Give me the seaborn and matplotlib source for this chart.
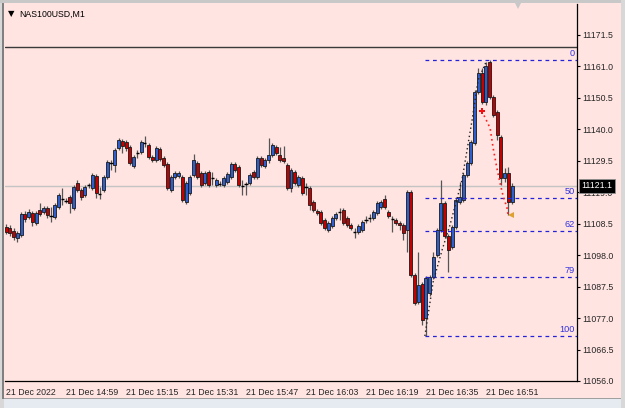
import matplotlib
matplotlib.use('Agg')
import matplotlib.pyplot as plt
import seaborn as sns
import numpy as np
import pandas as pd
from matplotlib.patches import Rectangle

# M1 candles, 21 Dec 2022 14:43 .. 16:58
opens = [
    11107.3, 11107.0, 11106.0, 11103.7, 11104.7, 11111.7, 11110.7, 11112.0, 11108.7, 11113.0,
    11112.3, 11113.7, 11111.3, 11110.7, 11114.0, 11116.5, 11116.3, 11117.3, 11113.7, 11122.0,
    11119.7, 11118.0, 11121.0, 11120.3, 11124.3, 11118.7, 11119.7, 11124.0, 11129.0, 11128.0,
    11133.7, 11136.0, 11135.7, 11134.0, 11127.7, 11131.7, 11132.3, 11135.0, 11134.7, 11130.7,
    11129.7, 11133.3, 11130.3, 11128.3, 11119.7, 11124.0, 11124.3, 11124.0, 11115.7, 11118.7,
    11124.7, 11128.7, 11125.3, 11122.0, 11125.7, 11124.0, 11121.3, 11122.0, 11121.3, 11122.3,
    11124.0, 11128.3, 11127.3, 11121.3, 11122.0, 11122.0, 11125.7, 11124.0, 11130.3, 11127.7,
    11129.7, 11131.3, 11134.0, 11131.3, 11130.3, 11128.0, 11120.3, 11125.7, 11121.3, 11123.7,
    11121.0, 11120.3, 11115.7, 11112.7, 11112.3, 11109.7, 11106.3, 11107.7, 11110.3, 11112.0,
    11113.0, 11110.3, 11108.0, 11106.0, 11105.7, 11106.3, 11109.3, 11110.0, 11110.3, 11112.0,
    11114.0, 11116.7, 11112.3, 11110.3, 11109.7, 11108.7, 11108.0, 11106.3, 11119.0, 11091.3,
    11082.3, 11088.3, 11077.0, 11085.3, 11090.7, 11098.0, 11106.3, 11115.3, 11104.3, 11100.7,
    11107.3, 11115.7, 11116.3, 11124.7, 11128.7, 11135.3, 11152.3, 11158.7, 11149.0, 11162.3,
    11150.7, 11145.7, 11137.3, 11123.7, 11125.3, 11115.7]
highs = [
    11108.5, 11108.0, 11107.0, 11106.0, 11112.3, 11112.7, 11113.3, 11112.7, 11112.7, 11115.3,
    11114.3, 11114.3, 11114.0, 11115.3, 11118.7, 11120.3, 11117.0, 11118.0, 11121.3, 11123.0,
    11120.3, 11121.3, 11122.0, 11125.3, 11125.0, 11120.7, 11124.7, 11129.7, 11129.7, 11133.7,
    11137.0, 11136.7, 11136.3, 11134.7, 11131.3, 11133.0, 11136.3, 11137.7, 11135.3, 11131.3,
    11134.3, 11134.0, 11131.0, 11129.0, 11124.7, 11126.0, 11126.0, 11124.7, 11122.7, 11124.7,
    11131.7, 11129.3, 11126.0, 11126.0, 11126.3, 11125.7, 11123.7, 11122.7, 11124.3, 11125.7,
    11129.0, 11129.0, 11128.0, 11123.0, 11122.3, 11125.3, 11126.3, 11131.0, 11131.0, 11130.3,
    11137.0, 11135.3, 11134.7, 11134.0, 11134.3, 11128.7, 11127.0, 11126.3, 11124.7, 11124.3,
    11122.0, 11121.0, 11116.3, 11113.3, 11113.0, 11110.3, 11109.3, 11111.0, 11112.3, 11113.7,
    11113.7, 11111.0, 11108.7, 11107.0, 11108.3, 11109.7, 11111.0, 11111.7, 11113.0, 11116.0,
    11116.3, 11118.0, 11113.0, 11111.0, 11110.3, 11109.3, 11108.7, 11119.7, 11119.7, 11092.0,
    11099.0, 11089.0, 11091.0, 11091.3, 11099.0, 11107.0, 11123.0, 11116.0, 11105.0, 11108.0,
    11117.0, 11122.3, 11125.3, 11129.3, 11136.3, 11153.0, 11160.3, 11160.3, 11162.3, 11163.0,
    11151.3, 11146.3, 11138.0, 11127.0, 11127.3, 11122.0]
lows = [
    11105.0, 11104.5, 11103.0, 11102.3, 11104.0, 11109.0, 11110.0, 11107.7, 11108.0, 11111.0,
    11111.7, 11110.3, 11109.0, 11110.0, 11113.3, 11114.7, 11115.3, 11112.0, 11113.0, 11119.0,
    11116.3, 11117.3, 11120.3, 11119.7, 11117.0, 11116.7, 11119.0, 11123.3, 11126.3, 11125.7,
    11133.0, 11132.0, 11132.7, 11128.0, 11127.0, 11130.3, 11131.7, 11134.0, 11130.0, 11129.0,
    11129.0, 11129.3, 11127.3, 11119.7, 11119.0, 11123.3, 11123.7, 11115.7, 11115.0, 11118.0,
    11124.0, 11123.3, 11120.7, 11121.3, 11120.7, 11121.3, 11120.7, 11121.0, 11120.7, 11121.7,
    11123.3, 11125.7, 11120.7, 11118.0, 11118.0, 11121.3, 11123.3, 11123.3, 11127.3, 11127.0,
    11128.7, 11130.7, 11131.3, 11129.0, 11128.7, 11119.7, 11119.0, 11121.3, 11120.7, 11118.0,
    11118.0, 11113.0, 11112.3, 11111.3, 11108.0, 11106.3, 11105.7, 11107.0, 11109.7, 11109.7,
    11108.0, 11107.3, 11106.3, 11103.7, 11105.0, 11105.7, 11108.7, 11109.0, 11109.7, 11111.3,
    11113.3, 11113.3, 11110.3, 11105.7, 11108.0, 11106.3, 11103.0, 11099.0, 11090.7, 11081.3,
    11081.7, 11074.7, 11071.0, 11084.3, 11090.0, 11097.3, 11105.7, 11103.7, 11092.3, 11100.0,
    11106.7, 11115.0, 11115.7, 11124.0, 11128.0, 11134.7, 11151.7, 11148.3, 11148.0, 11150.0,
    11144.0, 11136.3, 11121.3, 11122.3, 11111.3, 11115.0]
closes = [
    11105.7, 11105.3, 11104.0, 11105.3, 11111.7, 11110.0, 11112.3, 11109.0, 11112.0, 11111.7,
    11113.7, 11111.3, 11111.0, 11114.7, 11118.0, 11116.8, 11116.0, 11115.3, 11120.7, 11119.7,
    11117.3, 11120.7, 11121.3, 11124.7, 11118.7, 11118.3, 11124.0, 11129.0, 11128.7, 11133.0,
    11136.3, 11134.3, 11133.7, 11128.7, 11130.7, 11132.0, 11135.7, 11135.3, 11130.7, 11129.7,
    11133.7, 11130.0, 11128.0, 11120.3, 11124.0, 11125.3, 11125.3, 11116.3, 11122.0, 11124.0,
    11129.7, 11124.0, 11121.3, 11125.3, 11121.3, 11123.7, 11123.0, 11121.7, 11123.7, 11125.0,
    11128.3, 11126.3, 11121.3, 11121.0, 11121.7, 11124.7, 11124.0, 11130.3, 11128.0, 11129.7,
    11131.3, 11134.7, 11132.0, 11129.7, 11129.3, 11120.3, 11126.3, 11122.0, 11124.0, 11118.7,
    11120.7, 11114.7, 11113.0, 11112.0, 11108.7, 11107.0, 11108.7, 11110.3, 11111.7, 11112.3,
    11108.7, 11108.0, 11107.0, 11105.7, 11107.7, 11109.0, 11109.7, 11110.3, 11112.3, 11115.3,
    11115.7, 11114.0, 11111.0, 11110.0, 11108.7, 11108.0, 11105.3, 11119.0, 11091.3, 11082.0,
    11088.0, 11076.3, 11090.3, 11090.7, 11097.3, 11106.3, 11115.3, 11104.3, 11099.7, 11107.3,
    11116.3, 11117.3, 11124.7, 11128.7, 11135.7, 11152.3, 11158.7, 11149.0, 11161.0, 11150.7,
    11144.7, 11138.0, 11123.7, 11125.3, 11115.7, 11121.1]

time_ticks = [0, 16, 32, 48, 64, 80, 96, 112, 128]
time_labels = ['21 Dec 2022', '21 Dec 14:59', '21 Dec 15:15', '21 Dec 15:31', '21 Dec 15:47',
               '21 Dec 16:03', '21 Dec 16:19', '21 Dec 16:35', '21 Dec 16:51']
price_ticks = [11056.0, 11066.5, 11077.0, 11087.5, 11098.0, 11108.5, 11119.0, 11129.5,
               11140.0, 11150.5, 11161.0, 11171.5]

bid = 11121.1
hline_price = 11167.3

# fibo retracement drawn from the swing low to the swing high
fib_start = 111.7
fib_high = 11163.0
fib_low = 11071.0
fib_levels = [0, 50, 61.8, 78.6, 100]
fib_names = ['0', '50', '62', '79', '100']

# zigzag style dotted legs
up_leg_x = [111.7, 113.9, 116.3, 118.4, 121.6, 124.3, 125.9, 128.0]
up_leg_y = [11071.0, 11089.0, 11099.7, 11108.0, 11123.0, 11143.0, 11156.3, 11162.3]
down_leg_x = [126.9, 129.1, 129.9, 130.9, 131.7, 132.5, 133.6, 133.9]
down_leg_y = [11146.0, 11140.3, 11133.7, 11127.0, 11122.3, 11118.0, 11113.7, 11111.3]

bg = '#FFE4E1'
bull = '#2f5fcf'
bear = '#c40000'

sns.set_style('white', {'axes.facecolor': bg, 'figure.facecolor': bg})
plt.rcParams['font.family'] = ['Liberation Sans', 'DejaVu Sans']
fs = 6.3

df = pd.DataFrame({'open': opens, 'high': highs, 'low': lows, 'close': closes})
df['idx'] = np.arange(len(df))

fig = plt.figure(figsize=(6.25, 4.08), dpi=100)
ax = fig.add_axes([5 / 625, 27 / 408, 572 / 625, 377 / 408])
ax.set_facecolor(bg)

ax.axhline(bid, color='#c4c4c4', lw=1, zorder=0.5)
ax.axhline(hline_price, color='#3a3a3a', lw=1, zorder=0.6)

# candles
ax.vlines(df['idx'], df['low'], df['high'], color='#555555', lw=0.9, zorder=2)
body_lo = df[['open', 'close']].min(axis=1)
body_h = (df['close'] - df['open']).abs()
doji = body_h < 0.5
fills = np.where(df['close'] > df['open'], bull, bear)
ax.bar(df['idx'][~doji], body_h[~doji], bottom=body_lo[~doji], width=0.8,
       color=fills[~doji], edgecolor='#1a1a1a', linewidth=0.6, zorder=3)
ax.hlines(df['close'][doji], df['idx'][doji] - 0.45, df['idx'][doji] + 0.45,
          color='black', lw=1, zorder=3)

# fibo levels
fib_prices = [fib_high - (fib_high - fib_low) * lv / 100 for lv in fib_levels]
for p, name in zip(fib_prices, fib_names):
    ax.plot([fib_start, 153], [p, p], color='#2222dd', lw=0.9, ls=(0, (3, 3)), zorder=4)
    ax.text(151.6, p + 0.6, name, color='#3333dd', fontsize=fs + 0.3, ha='right', va='bottom', zorder=4)

sns.lineplot(x=up_leg_x, y=up_leg_y, ax=ax, color='#222222', lw=1, ls=(0, (1, 2)),
             sort=False, estimator=None, zorder=5)
sns.lineplot(x=down_leg_x, y=down_leg_y, ax=ax, color='#ff2020', lw=1.2, ls=(0, (1, 2)),
             sort=False, estimator=None, zorder=5)
ax.plot(126.9, 11146.0, marker='P', color='#ee1111', ms=5, mew=0, zorder=6)
ax.plot(134.6, 11111.3, marker='<', color='#e0a030', ms=5, mew=0, zorder=6)

ax.set_xlim(-0.27, 152.27)
ax.set_ylim(11056.0, 11181.67)

ax.set_xticks(time_ticks)
ax.set_xticklabels(time_labels, ha='left', fontsize=fs)
ax.set_yticks(price_ticks)
ax.set_yticklabels([f'{p:.1f}' for p in price_ticks], fontsize=fs)
ax.yaxis.tick_right()
ax.tick_params(axis='both', direction='out', length=2.5, width=0.8, color='black', pad=1.5)
ax.tick_params(axis='x', pad=2.5)
for s in ['left', 'top']:
    ax.spines[s].set_visible(False)
for s in ['right', 'bottom']:
    ax.spines[s].set_color('black')
    ax.spines[s].set_linewidth(0.9)

ax.annotate(f'{bid:.1f}', xy=(1, bid), xycoords=('axes fraction', 'data'),
            xytext=(3.0, 0), textcoords='offset points', ha='left', va='center',
            color='white', fontsize=fs,
            bbox=dict(boxstyle='square,pad=0.3', fc='black', ec='#909090', lw=0.6),
            zorder=10, annotation_clip=False)

ax.plot(0.897, 0.995, marker='v', color='#c8c8c8', ms=5, mew=0,
        transform=ax.transAxes, clip_on=False, zorder=6)

# title
fig.text(8 / 625, 1 - 14 / 408, '\u25bc', fontsize=6, va='center', ha='left', color='black',
         family=['DejaVu Sans'])
fig.text(19 / 625, 1 - 14 / 408, 'NAS100USD,M1', fontsize=fs, va='center', ha='left', color='black')

# window frame
W, H = 625, 408
fig.patches.append(Rectangle((0, 0), 1, 9 / H, transform=fig.transFigure,
                             fc='#e6ebf2', ec='none', zorder=-1))
fig.patches.append(Rectangle((0, 9 / H), 1, 1 / H, transform=fig.transFigure,
                             fc='#a0a0a0', ec='none', zorder=-1))
fig.patches.append(Rectangle((0, 0), 4 / W, 1, transform=fig.transFigure,
                             fc='#d8d8d8', ec='none', zorder=-1))
fig.patches.append(Rectangle((2 / W, 9 / H), 1.5 / W, 1 - 12 / H, transform=fig.transFigure,
                             fc='#808080', ec='none', zorder=-1))
fig.patches.append(Rectangle((0, 1 - 3 / H), 1, 3 / H, transform=fig.transFigure,
                             fc='#c8c8c8', ec='none', zorder=-1))
fig.patches.append(Rectangle((621 / W, 0), 4 / W, 1, transform=fig.transFigure,
                             fc='#d8d8d8', ec='none', zorder=-1))

fig.savefig('out.png', dpi=100, facecolor=bg)
